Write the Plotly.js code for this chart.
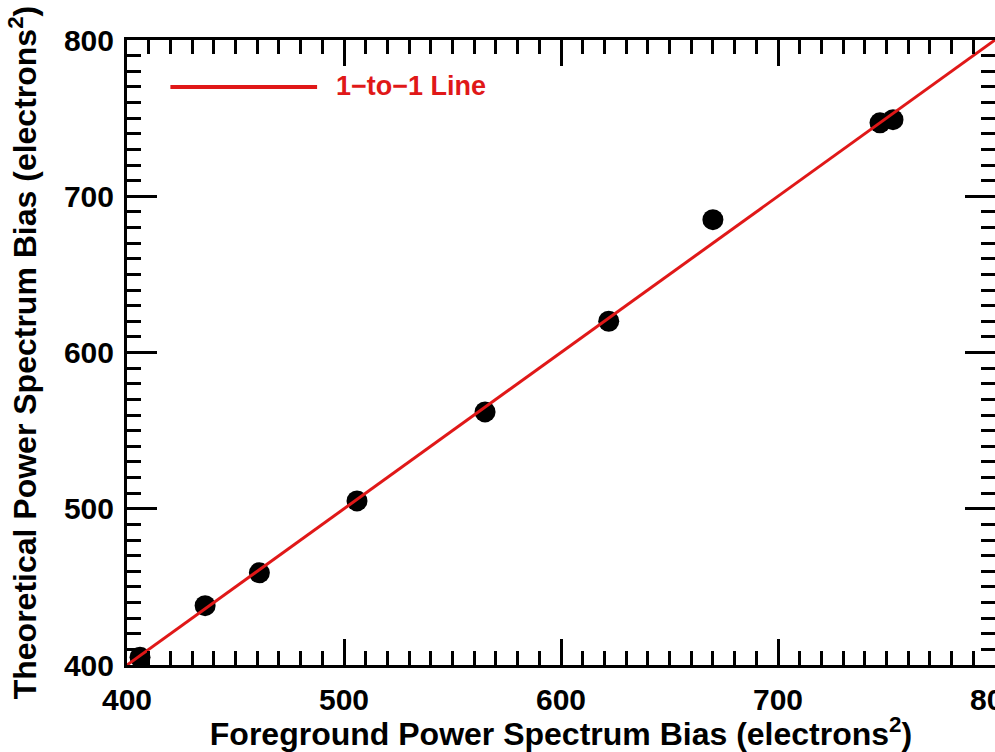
<!DOCTYPE html>
<html>
<head>
<meta charset="utf-8">
<script src="https://cdn.plot.ly/plotly-3.0.1.min.js"></script>
<style>html,body{margin:0;padding:0;background:#fff;}#chart{width:995px;height:752px;}</style>
</head>
<body>
<div id="chart"></div>
<script>
// Data
const foregroundBias = [406, 436, 461, 506, 565, 622, 670, 747, 753];
const theoreticalBias = [405, 438, 459, 505, 562, 620, 685, 747, 749];
const oneToOneX = [400, 800];
const oneToOneY = [400, 800];
const legendLabel = '1\u2212to\u22121 Line';
const xTitle = 'Foreground Power Spectrum Bias (electrons<sup>2</sup>)';
const yTitle = 'Theoretical Power Spectrum Bias (electrons<sup>2</sup>)';

const RED = 'rgb(224,24,24)';
const FONT = 'Liberation Sans, Arial, Helvetica, sans-serif';

const data = [
  {
    x: foregroundBias, y: theoreticalBias, type: 'scatter', mode: 'markers',
    marker: {color: 'black', size: 21}, showlegend: false, cliponaxis: false
  },
  {
    x: oneToOneX, y: oneToOneY, type: 'scatter', mode: 'lines',
    line: {color: RED, width: 3}, showlegend: false, name: legendLabel
  }
];

const axisCommon = {
  showgrid: false, zeroline: false, showline: true, linecolor: 'black', linewidth: 3,
  mirror: 'allticks', ticks: 'inside', tickcolor: 'black', tickwidth: 3,
  dtick: 100, tickfont: {family: FONT, size: 30, color: 'black', weight: 'bold'},
  ticklabeloverflow: 'allow',
  minor: {dtick: 10, ticks: 'inside', ticklen: 14, tickwidth: 3, tickcolor: 'black'}
};

const layout = {
  width: 995, height: 752,
  margin: {l: 127, r: 0, t: 40, b: 87},
  paper_bgcolor: 'white', plot_bgcolor: 'white',
  font: {family: FONT, color: 'black'},
  xaxis: Object.assign({}, axisCommon, {
    range: [400, 800], ticklen: 26, ticklabelstandoff: 6,
    title: {text: xTitle, font: {family: FONT, size: 32, color: 'black', weight: 'bold'}, standoff: 4}
  }),
  yaxis: Object.assign({}, axisCommon, {
    range: [400, 800], ticklen: 30, ticklabelstandoff: 4,
    title: {text: yTitle, font: {family: FONT, size: 32, color: 'black', weight: 'bold'}, standoff: 18}
  }),
  shapes: [
    {type: 'line', xref: 'paper', yref: 'paper', x0: 0.050, x1: 0.219, y0: 0.925, y1: 0.925,
     line: {color: RED, width: 4}}
  ],
  annotations: [
    {xref: 'paper', yref: 'paper', x: 0.238, y: 0.927, xanchor: 'left', yanchor: 'middle',
     text: legendLabel, showarrow: false,
     font: {family: FONT, size: 27, color: RED, weight: 'bold'}}
  ]
};

Plotly.newPlot('chart', data, layout, {displayModeBar: false, staticPlot: true});
</script>
</body>
</html>
